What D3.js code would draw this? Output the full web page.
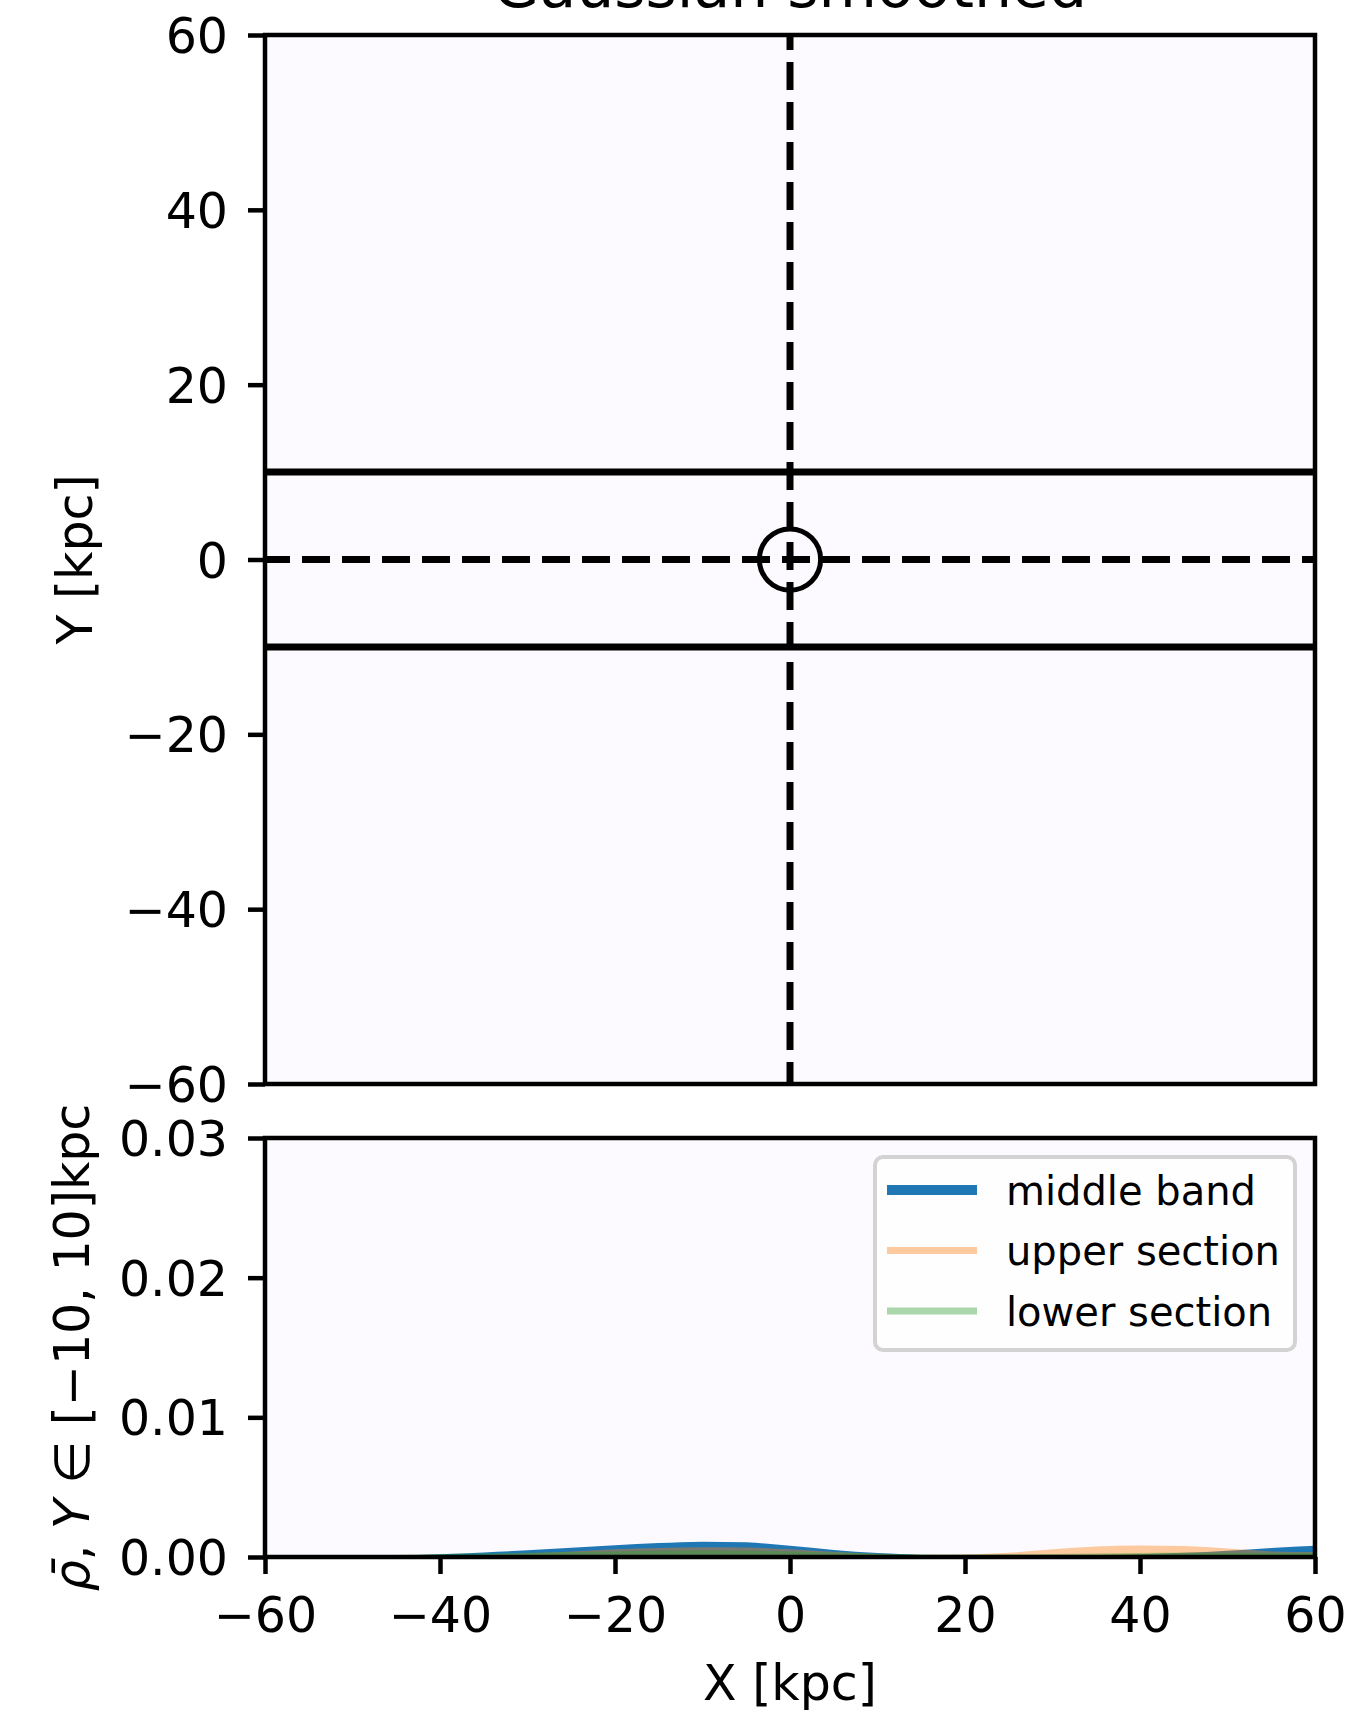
<!DOCTYPE html>
<html><head><meta charset="utf-8">
<script src="https://cdn.jsdelivr.net/npm/d3@7"></script>
<style>
body{margin:0;background:#fff;}
text{font-family:"DejaVu Sans",sans-serif;fill:#000;}
</style></head>
<body>
<svg id="c" width="1351" height="1714"></svg>
<script>
// ---- data ----
const xKpc = [-60,-55,-50,-45,-40,-35,-30,-25,-20,-15,-10,-5,0,5,10,15,20,25,30,35,40,45,50,55,60];
const middleBand = [0,0.00001,0.00004,0.0001,0.0002,0.00033,0.00048,0.00066,0.00085,0.001,0.0011,0.00105,0.0008,0.0005,0.00028,0.00015,0.0001,0.0001,0.00012,0.00015,0.0002,0.0003,0.00045,0.00065,0.0008];
const upperSection = [0,0,0.00001,0.00004,0.0001,0.00017,0.00027,0.0004,0.00055,0.00065,0.0007,0.00068,0.00055,0.00038,0.00022,0.00015,0.00018,0.0003,0.00055,0.00075,0.00082,0.00078,0.0006,0.0004,0.00035];
const lowerSection = [0,0.00001,0.00006,0.00014,0.00021,0.00026,0.0003,0.00035,0.0004,0.00045,0.00048,0.00045,0.0004,0.00032,0.00025,0.0002,0.00018,0.0002,0.00022,0.00025,0.00028,0.0003,0.0003,0.0003,0.0003];
const xTicks = [-60,-40,-20,0,20,40,60];
const yTopTicks = [-60,-40,-20,0,20,40,60];
const yBotTicks = [0,0.01,0.02,0.03];
const bandEdges = [-10,10];
const legendLabels = ["middle band","upper section","lower section"];
const titleText = "Gaussian smoothed";

// ---- layout ----
const L=265,R=1315,T1=35,B1=1084,T2=1138,B2=1557;
const FS=49, spineW=4.5, lineW=7, tickLen=17;
const svg=d3.select("#c");
const x=d3.scaleLinear([-60,60],[L,R]);
const yT=d3.scaleLinear([-60,60],[B1,T1]);
const yB=d3.scaleLinear([0,0.03],[B2,T2]);
const bg="#fcfafe";

// backgrounds
svg.append("rect").attr("x",L).attr("y",T1).attr("width",R-L).attr("height",B1-T1).attr("fill",bg);
svg.append("rect").attr("x",L).attr("y",T2).attr("width",R-L).attr("height",B2-T2).attr("fill",bg);

// clip paths
const defs=svg.append("defs");
defs.append("clipPath").attr("id","cp1").append("rect").attr("x",L).attr("y",T1).attr("width",R-L).attr("height",B1-T1);
defs.append("clipPath").attr("id","cp2").append("rect").attr("x",L).attr("y",T2).attr("width",R-L).attr("height",B2-T2);

// ---- top panel ----
const g1=svg.append("g").attr("clip-path","url(#cp1)");
bandEdges.forEach(v=>{
  g1.append("line").attr("x1",L).attr("x2",R).attr("y1",yT(v)).attr("y2",yT(v))
    .attr("stroke","#000").attr("stroke-width",lineW);
});
g1.append("line").attr("x1",x(0)).attr("x2",x(0)).attr("y1",T1).attr("y2",B1)
  .attr("stroke","#000").attr("stroke-width",lineW).attr("stroke-dasharray","28,12").attr("stroke-dashoffset",13);
g1.append("line").attr("x1",L).attr("x2",R).attr("y1",yT(0)).attr("y2",yT(0))
  .attr("stroke","#000").attr("stroke-width",lineW).attr("stroke-dasharray","28,12").attr("stroke-dashoffset",3);
g1.append("circle").attr("cx",x(0)).attr("cy",yT(0)).attr("r",x(3.5)-x(0))
  .attr("fill","none").attr("stroke","#000").attr("stroke-width",5);

// ---- bottom panel fills ----
const g2=svg.append("g").attr("clip-path","url(#cp2)");
const series=[
  {vals:middleBand,color:"#1f77b4",op:1},
  {vals:upperSection,color:"#ff7f0e",op:0.4},
  {vals:lowerSection,color:"#2ca02c",op:0.4}
];
const area=d3.area().x((d,i)=>x(xKpc[i])).y0(yB(0)).y1(d=>yB(d)).curve(d3.curveMonotoneX);
series.forEach(s=>{
  g2.append("path").attr("d",area(s.vals)).attr("fill",s.color).attr("fill-opacity",s.op);
});

// ---- axes ----
function styleAxis(g){
  g.select(".domain").remove();
  g.selectAll(".tick line").attr("stroke","#000").attr("stroke-width",spineW);
  g.selectAll(".tick text").attr("font-size",FS).attr("font-family","DejaVu Sans").attr("fill","#000");
}
const fmtInt=d3.format("d");
svg.append("g").attr("transform",`translate(${L},0)`)
  .call(d3.axisLeft(yT).tickValues(yTopTicks).tickFormat(d=>fmtInt(d)).tickSize(tickLen).tickPadding(20))
  .call(styleAxis).selectAll(".tick text").attr("dy","0.36em");
svg.append("g").attr("transform",`translate(${L},0)`)
  .call(d3.axisLeft(yB).tickValues(yBotTicks).tickFormat(d3.format(".2f")).tickSize(tickLen).tickPadding(20))
  .call(styleAxis).selectAll(".tick text").attr("dy","0.36em");
svg.append("g").attr("transform",`translate(0,${B2})`)
  .call(d3.axisBottom(x).tickValues(xTicks).tickFormat(d=>fmtInt(d)).tickSize(tickLen).tickPadding(23))
  .call(styleAxis);

// frames
[[T1,B1],[T2,B2]].forEach(([t,b])=>{
  svg.append("rect").attr("x",L).attr("y",t).attr("width",R-L).attr("height",b-t)
    .attr("fill","none").attr("stroke","#000").attr("stroke-width",spineW);
});

// ---- legend ----
const lg=svg.append("g");
lg.append("rect").attr("x",875).attr("y",1157).attr("width",420).attr("height",193).attr("rx",8)
  .attr("fill","#ffffff").attr("fill-opacity",0.8).attr("stroke","#d3d3d3").attr("stroke-width",4);
const legW=[10,7,7];
const legCol=["#1f77b4","#fdc99f","#a9d6ab"];
legendLabels.forEach((lab,i)=>{
  const yy=1190+i*60.5;
  lg.append("line").attr("x1",887).attr("x2",977).attr("y1",yy).attr("y2",yy)
    .attr("stroke",legCol[i]).attr("stroke-width",legW[i]);
  lg.append("text").attr("x",1006).attr("y",yy+14.5).attr("font-size",40).text(lab);
});

// ---- titles / labels ----
svg.append("text").attr("x",(L+R)/2).attr("y",7).attr("text-anchor","middle").attr("font-size",60).text(titleText);
svg.append("text").attr("x",(L+R)/2).attr("y",1700).attr("text-anchor","middle").attr("font-size",FS).text("X [kpc]");
svg.append("text").attr("transform",`translate(92,${(T1+B1)/2}) rotate(-90)`).attr("text-anchor","middle").attr("font-size",FS).text("Y [kpc]");
const yl=svg.append("text").attr("transform",`translate(89,${(T2+B2)/2}) rotate(-90)`).attr("text-anchor","middle").attr("font-size",FS);
yl.append("tspan").attr("font-style","italic").text("ρ\u0304");
yl.append("tspan").text(", ");
yl.append("tspan").attr("font-style","italic").text("Y");
yl.append("tspan").text(" ∈ [−10, 10]kpc");
</script>
</body></html>
